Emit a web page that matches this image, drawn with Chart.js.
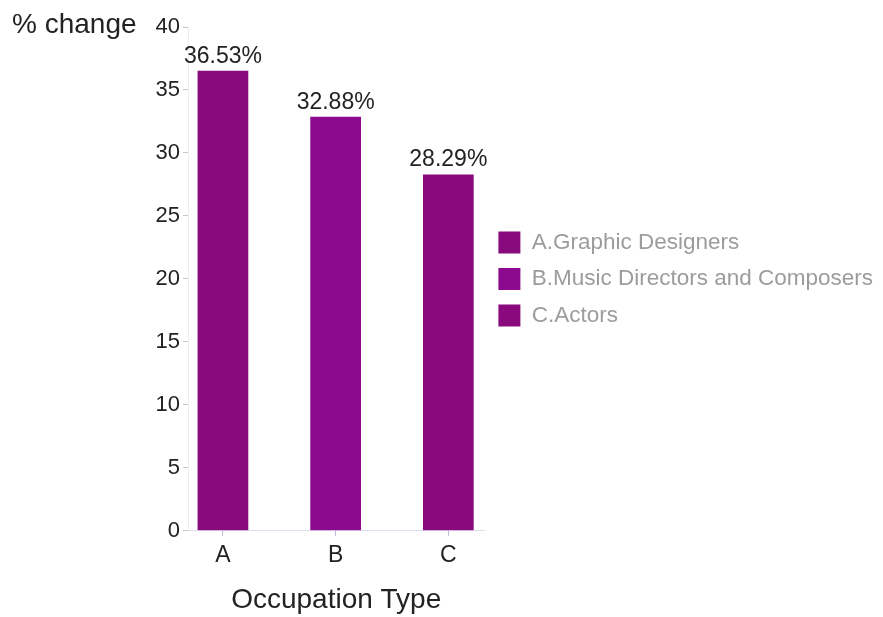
<!DOCTYPE html>
<html>
<head>
<meta charset="utf-8">
<script src="https://cdn.jsdelivr.net/npm/chart.js@4"></script>
<style>
  body { margin: 0; background: #fff; }
  #wrap { width: 883px; height: 617px; position: relative; }
</style>
</head>
<body>
<div id="wrap"><canvas id="grafico"></canvas></div>
<script>
// categorias y valores
var categorias = ['A', 'B', 'C'];
var nombres = ['A.Graphic Designers', 'B.Music Directors and Composers', 'C.Actors'];
var cambio = [36.53, 32.88, 28.29];
var colores = ['#870b7c', '#8c0a8d', '#8a0a7e'];
var ticksY = [0, 5, 10, 15, 20, 25, 30, 35, 40];

var fuente = '"Liberation Sans", Arial, Helvetica, sans-serif';

// posiciones 1..n en un eje lineal para poder dejar margen a los lados
var puntos = cambio.map(function (v, i) { return { x: i + 1, y: v }; });

// etiquetas de valor encima de cada barra y titulo del eje y arriba a la izquierda
var etiquetas = {
    id: 'etiquetas',
    afterDatasetsDraw: function (chart) {
        var ctx = chart.ctx;
        var meta = chart.getDatasetMeta(0);
        ctx.save();
        ctx.font = '23px ' + fuente;
        ctx.fillStyle = '#222';
        ctx.textAlign = 'center';
        ctx.textBaseline = 'bottom';
        meta.data.forEach(function (bar, i) {
            ctx.fillText(cambio[i].toFixed(2) + '%', bar.x, bar.y - 3);
        });
        ctx.font = '28px ' + fuente;
        ctx.textAlign = 'left';
        ctx.textBaseline = 'middle';
        ctx.fillText('% change', 12, chart.scales.y.getPixelForValue(40) - 2);
        ctx.restore();
    }
};

var ctx = document.getElementById('grafico').getContext('2d');
var myChart = new Chart(ctx, {
    type: 'bar',
    data: {
        datasets: [{
            label: '% change',
            data: puntos,
            backgroundColor: colores,
            borderWidth: 0,
            barPercentage: 0.45,
            categoryPercentage: 1
        }]
    },
    options: {
        responsive: true,
        maintainAspectRatio: false,
        animation: false,
        layout: { padding: { top: 27, left: 0, right: 0, bottom: 0 } },
        plugins: {
            tooltip: { enabled: false },
            legend: {
                position: 'right',
                align: 'center',
                fullSize: false,
                maxWidth: 420,
                labels: {
                    boxWidth: 22,
                    boxHeight: 22,
                    padding: 14,
                    color: '#9c9c9c',
                    font: { family: fuente, size: 22.5 },
                    generateLabels: function () {
                        return nombres.map(function (n, i) {
                            return {
                                text: n,
                                fillStyle: colores[i],
                                strokeStyle: colores[i],
                                fontColor: '#9c9c9c',
                                lineWidth: 0,
                                index: i
                            };
                        });
                    }
                }
            }
        },
        scales: {
            x: {
                type: 'linear',
                min: 0.69,
                max: 3.32,
                offset: false,
                ticks: {
                    stepSize: 1,
                    includeBounds: false,
                    color: '#222',
                    padding: 6,
                    font: { family: fuente, size: 23 },
                    callback: function (v) { return categorias[v - 1] || ''; }
                },
                grid: {
                    offset: false,
                    drawOnChartArea: false,
                    tickLength: 5,
                    color: '#b8b8d8'
                },
                border: { color: 'rgba(190,185,225,0.5)' },
                title: {
                    display: true,
                    text: 'Occupation Type',
                    color: '#222',
                    font: { family: fuente, size: 28 },
                    padding: { top: 8, bottom: 0 }
                }
            },
            y: {
                min: 0,
                max: 40,
                afterBuildTicks: function (scale) {
                    scale.ticks = ticksY.map(function (v) { return { value: v }; });
                },
                afterFit: function (scale) { scale.width = 188; },
                ticks: {
                    color: '#222',
                    padding: 3,
                    font: { family: fuente, size: 22 }
                },
                grid: {
                    drawOnChartArea: false,
                    tickLength: 5,
                    color: '#c8c8c8'
                },
                border: { color: 'rgba(220,215,235,0.5)' }
            }
        }
    },
    plugins: [etiquetas]
});
</script>
</body>
</html>
